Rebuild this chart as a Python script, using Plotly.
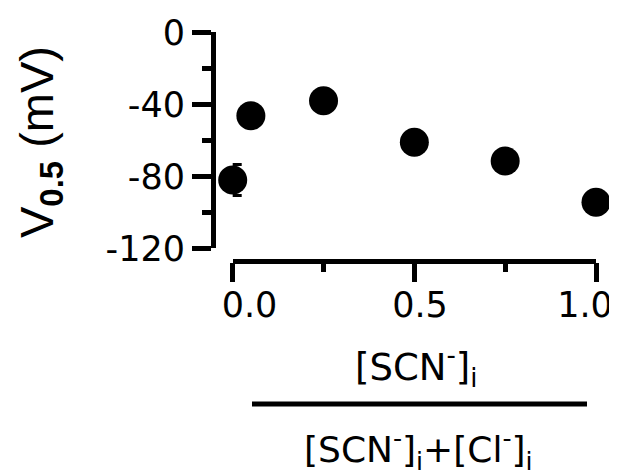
import plotly.graph_objects as go

# data
ratio = [0.0, 0.05, 0.25, 0.5, 0.75, 1.0]
v_half = [-82.1, -46.3, -38.0, -61.1, -71.5, -94.4]
v_err = [8.6, 0, 0, 0, 0, 0]

y_ticks = [0, -40, -80, -120]
y_ticklabels = ["0", "-40", "-80", "-120"]
x_ticks = [0.0, 0.5, 1.0]
x_ticklabels = ["\u00a0" * 5 + "0.0", "\u00a0" * 3 + "0.5", "1.0"]

OFF = 8  # page body margin offset
W, H = 617 - OFF, 476 - OFF
FONT = "DejaVu Sans"

fig = go.Figure()
fig.add_trace(go.Scatter(
    x=ratio, y=v_half, mode="markers",
    marker=dict(size=29, color="black"),
    error_y=dict(type="data", array=v_err, visible=True, color="black",
                 thickness=3, width=9),
    cliponaxis=False, showlegend=False,
))

def px_x(px):
    return (px - OFF) / W

def px_y(py):
    return 1 - (py - OFF) / H

fig.update_layout(
    width=W, height=H,
    margin=dict(l=0, r=0, t=0, b=0, autoexpand=False),
    paper_bgcolor="white", plot_bgcolor="white",
    xaxis=dict(
        domain=[px_x(232.7), px_x(596)],
        range=[0, 1], anchor="free", position=px_y(260.7),
        automargin=False, ticklabeloverflow="allow",
        showgrid=False, zeroline=False,
        showline=True, linecolor="black", linewidth=4.5,
        ticks="outside", ticklen=19, tickwidth=4.5, tickcolor="black",
        tickvals=x_ticks, ticktext=x_ticklabels, ticklabelstandoff=-7,
        ticklabelshift=-11,
        tickfont=dict(family=FONT, size=35, color="black"),
        minor=dict(tickvals=[0.25, 0.75], ticks="outside", ticklen=9,
                   tickwidth=4.5, tickcolor="black", showgrid=False),
    ),
    yaxis=dict(
        domain=[px_y(248.3), px_y(32.3)],
        range=[-120, 0], anchor="free", position=px_x(212.7),
        automargin=False, ticklabeloverflow="allow",
        showgrid=False, zeroline=False,
        showline=True, linecolor="black", linewidth=4.5,
        ticks="outside", ticklen=19, tickwidth=4.5, tickcolor="black",
        tickvals=y_ticks, ticktext=y_ticklabels,
        tickfont=dict(family=FONT, size=35, color="black"),
        minor=dict(tickvals=[-20, -60, -100], ticks="outside", ticklen=9,
                   tickwidth=4.5, tickcolor="black", showgrid=False),
    ),
)

# y-axis title
fig.add_annotation(
    xref="paper", yref="paper", x=px_x(40), y=px_y(142),
    text="V<sub><b>0.5</b></sub> (mV)", textangle=-90, showarrow=False,
    font=dict(family="Liberation Sans", size=47, color="black"),
    xanchor="center", yanchor="middle",
)

# x-axis title as a fraction
fig.add_annotation(
    xref="paper", yref="paper", x=px_x(416), y=px_y(366),
    text="[SCN<sup>-</sup>]<sub>i</sub>", showarrow=False,
    font=dict(family=FONT, size=37, color="black"),
    xanchor="center", yanchor="middle",
)
fig.add_annotation(
    xref="paper", yref="paper", x=px_x(418), y=px_y(450),
    text="[SCN<sup>-</sup>]<sub>i</sub>+[Cl<sup>-</sup>]<sub>i</sub>", showarrow=False,
    font=dict(family=FONT, size=36, color="black"),
    xanchor="center", yanchor="middle",
)
fig.add_shape(
    type="line", xref="paper", yref="paper",
    x0=px_x(252), x1=px_x(587), y0=px_y(404), y1=px_y(404),
    line=dict(color="black", width=5),
)

fig.write_html("out.html")
